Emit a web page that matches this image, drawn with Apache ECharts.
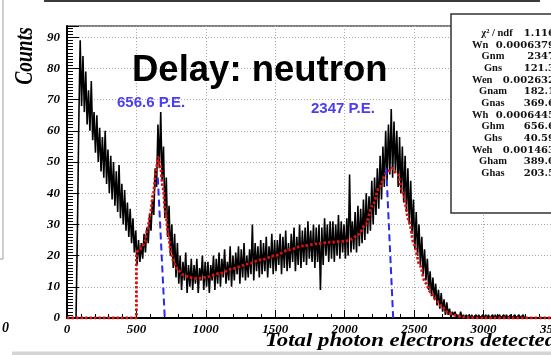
<!DOCTYPE html>
<html>
<head>
<meta charset="utf-8">
<script src="https://cdn.jsdelivr.net/npm/echarts@6/dist/echarts.min.js"></script>
<style>
html,body{margin:0;padding:0;background:#fff;}
#chart{width:551px;height:355px;}
</style>
</head>
<body>
<div id="chart"></div>
<script>
// ---------- data ----------
const binStart = 0;
const binWidth = 10;
const counts = [
  0,0,0,0,0,0,0,28,63,89,
  68,84,66,79,62,73,60,76,57,66,
  53,65,50,61,47,58,45,60,43,54,
  40,52,38,50,36,47,34,49,32,43,
  30,41,28,37,26,35,24,32,21,28,
  17,25,18,24,19,27,21,29,24,33,
  28,38,33,48,42,62,48,66,44,55,
  32,45,26,36,20,30,16,27,13,24,
  11,20,9,18,12,21,8,17,10,19,
  9,17,11,19,8,16,12,20,9,18,
  10,18,8,17,12,20,9,19,11,21,
  10,19,13,22,11,18,12,23,10,20,
  12,21,14,23,11,22,13,24,12,20,
  13,22,14,30,12,24,15,23,13,25,
  14,24,15,26,13,23,16,27,14,25,
  15,25,17,27,14,26,16,28,15,24,
  16,27,18,29,15,26,17,30,16,28,
  18,29,17,31,19,28,18,30,16,29,
  18,30,9,29,17,32,20,30,18,31,
  19,31,18,30,20,33,19,31,21,30,
  19,32,20,46,21,31,22,34,21,36,
  23,35,24,38,25,40,27,39,28,44,
  30,45,33,48,35,52,38,55,42,60,
  44,62,46,67,45,63,47,60,42,58,
  40,55,37,52,34,48,30,44,27,38,
  22,34,20,30,17,26,14,22,12,19,
  9,15,7,13,6,11,4,9,3,8,
  2,6,1,5,1,3,0,2,1,2,
  0,1,0,2,0,1,0,1,0,1,
  0,1,0,0,1,0,1,0,0,1,
  0,1,0,1,0,0,1,0,1,0,
  0,1,0,0,1,0,1,0,0,1,
  0,0,1,0,0,1,0,0,1,0,
  0,0,0,0,0,0,0,0,0,0,
  0,0,0,0,0,0,0,0,0,0
];

// fit function (red dotted)
const fitBaseX = [0, 500, 500];
const fitBaseY = [0, 0, 21.2];
const fitX = [500,520,540,560,580,600,620,640,656,670,690,710,730,750,770,800,840,880,920,960,1000,
  1100,1200,1300,1400,1500,1600,1700,1800,1900,2000,2050,2100,2150,2200,2250,2300,2340,2380,2420,
  2460,2500,2540,2580,2620,2660,2700,2750,2800,2850,2900,3000,3500];
const fitY = [21.2,21.6,22.5,24.5,28.5,33.5,39.5,46.5,51.5,49.5,42,33.5,26,20.8,17.6,15.3,13.8,13.0,12.7,12.8,13.1,
  14.3,15.9,17.3,18.7,20.0,21.9,23.1,23.8,24.3,24.6,25.3,26.8,30.0,36.0,42.0,46.5,48.0,46.0,40.0,
  31.5,23.5,17.0,11.3,8.2,5.6,3.5,1.5,0.8,0.3,0.1,0,0];

// peak marker lines (blue dashed)
const peakTopX = [654, 2299];
const peakTopY = [45, 48];
const peakBottomX = [704, 2349];
const peakBottomY = [0, 0];
const peakLabels = ['656.6 P.E.', '2347 P.E.'];

// axes
const xMin = 0, xMax = 3500, xStep = 500;
const yMin = 0, yMax = 93.6, yStep = 10;

// stats box
const statNames = ['χ² / ndf','Wn','Gnm','Gns','Wen','Gnam','Gnas','Wh','Ghm','Ghs','Weh','Gham','Ghas'];
const statValues = ['1.116','0.0006379','2347','121.3','0.002632','182.1','369.6','0.0006445','656.6','40.59','0.001463','389.0','203.5'];

const titleText = 'Delay: neutron';
const xTitle = 'Total photon electrons detected';
const yTitle = 'Counts';

// ---------- chart ----------
const chart = echarts.init(document.getElementById('chart'), null, {renderer: 'canvas'});

const histData = counts.map((c, i) => [binStart + (i + 0.5) * binWidth, c]);
const fitBase = fitBaseX.map((x, i) => [x, fitBaseY[i]]);
const fitData = fitX.map((x, i) => [x, fitY[i]]);

const serifRich = {
  t: {fontFamily: 'Liberation Serif', fontStyle: 'italic', fontWeight: 'bold', fontSize: 13, color: '#000'}
};

const blueSeries = peakTopX.map((x, i) => ({
  type: 'line', data: [[x, peakTopY[i]], [peakBottomX[i], peakBottomY[i]]],
  showSymbol: false, silent: true, z: 5,
  lineStyle: {color: '#2a2af5', width: 2, type: [7, 4]}
}));

const statElems = [{
  type: 'rect', shape: {x: 451, y: 14, width: 110, height: 199},
  style: {fill: '#fff', stroke: '#333', lineWidth: 1.5}, z: 100
}];
statNames.forEach((n, i) => {
  const y = 33.3 + i * 11.67;
  const isW = n.charAt(0) === 'W';
  const isChi = i === 0;
  statElems.push({
    type: 'text', z: 101,
    style: {
      x: isW ? 472 : (isChi ? 497 : 493), y: y, text: n,
      align: isW ? 'left' : 'center', verticalAlign: 'middle',
      fontFamily: 'Liberation Serif', fontWeight: 'bold', fontSize: 10.5, fill: '#111'
    }
  });
  statElems.push({
    type: 'text', z: 101,
    style: {
      x: 555, y: y, text: statValues[i], align: 'right', verticalAlign: 'middle',
      fontFamily: 'DejaVu Serif', fontWeight: 'bold', fontSize: 10, fill: '#111'
    }
  });
});

const option = {
  animation: false,
  backgroundColor: '#fff',
  textStyle: {fontFamily: 'Liberation Serif'},
  grid: {
    left: 67, top: 26, right: -2, bottom: 37,
    show: true, borderColor: '#000', borderWidth: 1, backgroundColor: '#fff',
    containLabel: false, outerBoundsMode: 'none'
  },
  xAxis: {
    type: 'value', min: xMin, max: xMax, interval: xStep,
    axisLine: {show: true, onZero: false, lineStyle: {color: '#000', width: 2}},
    axisTick: {show: true, inside: true, length: 8, lineStyle: {color: '#000', width: 1}},
    minorTick: {show: true, splitNumber: 5, length: 4, lineStyle: {color: '#000', width: 1}},
    splitLine: {show: true, lineStyle: {color: '#a8a8a8', width: 1, type: [1, 2]}},
    axisLabel: {margin: 5, showMaxLabel: true, showMinLabel: true, hideOverlap: false,
      formatter: v => '{t|' + v + '}', rich: serifRich}
  },
  yAxis: {
    type: 'value', min: yMin, max: yMax, interval: yStep,
    axisLine: {show: true, onZero: false, lineStyle: {color: '#000', width: 2}},
    axisTick: {show: true, inside: true, length: 12, lineStyle: {color: '#000', width: 1}},
    minorTick: {show: true, splitNumber: 10, length: 6, lineStyle: {color: '#000', width: 1}},
    splitLine: {show: true, lineStyle: {color: '#a8a8a8', width: 1, type: [1, 2]}},
    axisLabel: {margin: 7, showMaxLabel: false,
      formatter: v => (Math.abs(v % yStep) < 1e-9 ? '{t|' + v + '}' : ''), rich: serifRich}
  },
  series: [
    {
      type: 'line', data: histData, showSymbol: false, silent: true, z: 2,
      lineStyle: {color: '#000', width: 1.6}
    },
    {
      type: 'line', data: fitBase, showSymbol: false, silent: true, z: 4,
      lineStyle: {color: '#e41010', width: 2.8, type: [2.5, 2]}
    },
    {
      type: 'line', data: fitData, showSymbol: false, silent: true, z: 4,
      smooth: 0.3, smoothMonotone: 'x',
      lineStyle: {color: '#e41010', width: 2.8, type: [2.5, 2]}
    }
  ].concat(blueSeries),
  graphic: [
    {type: 'rect', shape: {x: 44, y: 0, width: 496, height: 2}, style: {fill: '#3a3a3a'}, z: 100},
    {type: 'polyline', shape: {points: [[3, 0], [3, 259], [0, 259]]}, style: {stroke: '#a0a0a0', lineWidth: 1, fill: null}, z: 100},
    {type: 'rect', shape: {x: 12, y: 351.5, width: 539, height: 4}, style: {fill: '#d4d4d4'}, z: 100},
    {type: 'text', z: 100, style: {x: 9, y: 328, text: '0', align: 'right', verticalAlign: 'middle',
      fontFamily: 'Liberation Serif', fontStyle: 'italic', fontWeight: 'bold', fontSize: 14, fill: '#000'}},
    {type: 'text', z: 100, style: {x: 132, y: 71, text: titleText, align: 'left', verticalAlign: 'middle',
      fontFamily: 'Liberation Sans', fontWeight: 'bold', fontSize: 36.5, fill: '#000'}},
    {type: 'text', z: 100, style: {x: 117, y: 103, text: peakLabels[0], align: 'left', verticalAlign: 'middle',
      fontFamily: 'Liberation Sans', fontWeight: 'bold', fontSize: 15, fill: '#4b3df2'}},
    {type: 'text', z: 100, style: {x: 311, y: 108.5, text: peakLabels[1], align: 'left', verticalAlign: 'middle',
      fontFamily: 'Liberation Sans', fontWeight: 'bold', fontSize: 15, fill: '#4b3df2'}},
    {type: 'text', z: 100, x: 25, y: 56, rotation: Math.PI / 2, scaleY: 1.3,
      style: {x: 0, y: 0, text: yTitle, align: 'center', verticalAlign: 'middle',
      fontFamily: 'Liberation Serif', fontStyle: 'italic', fontWeight: 'bold', fontSize: 19.5, fill: '#000'}},
    {type: 'text', z: 100, x: 265, y: 341, scaleX: 1.2,
      style: {x: 0, y: 0, text: xTitle, align: 'left', verticalAlign: 'middle',
      fontFamily: 'Liberation Serif', fontStyle: 'italic', fontWeight: 'bold', fontSize: 19, fill: '#000'}}
  ].concat(statElems)
};

chart.setOption(option);
</script>
</body>
</html>
